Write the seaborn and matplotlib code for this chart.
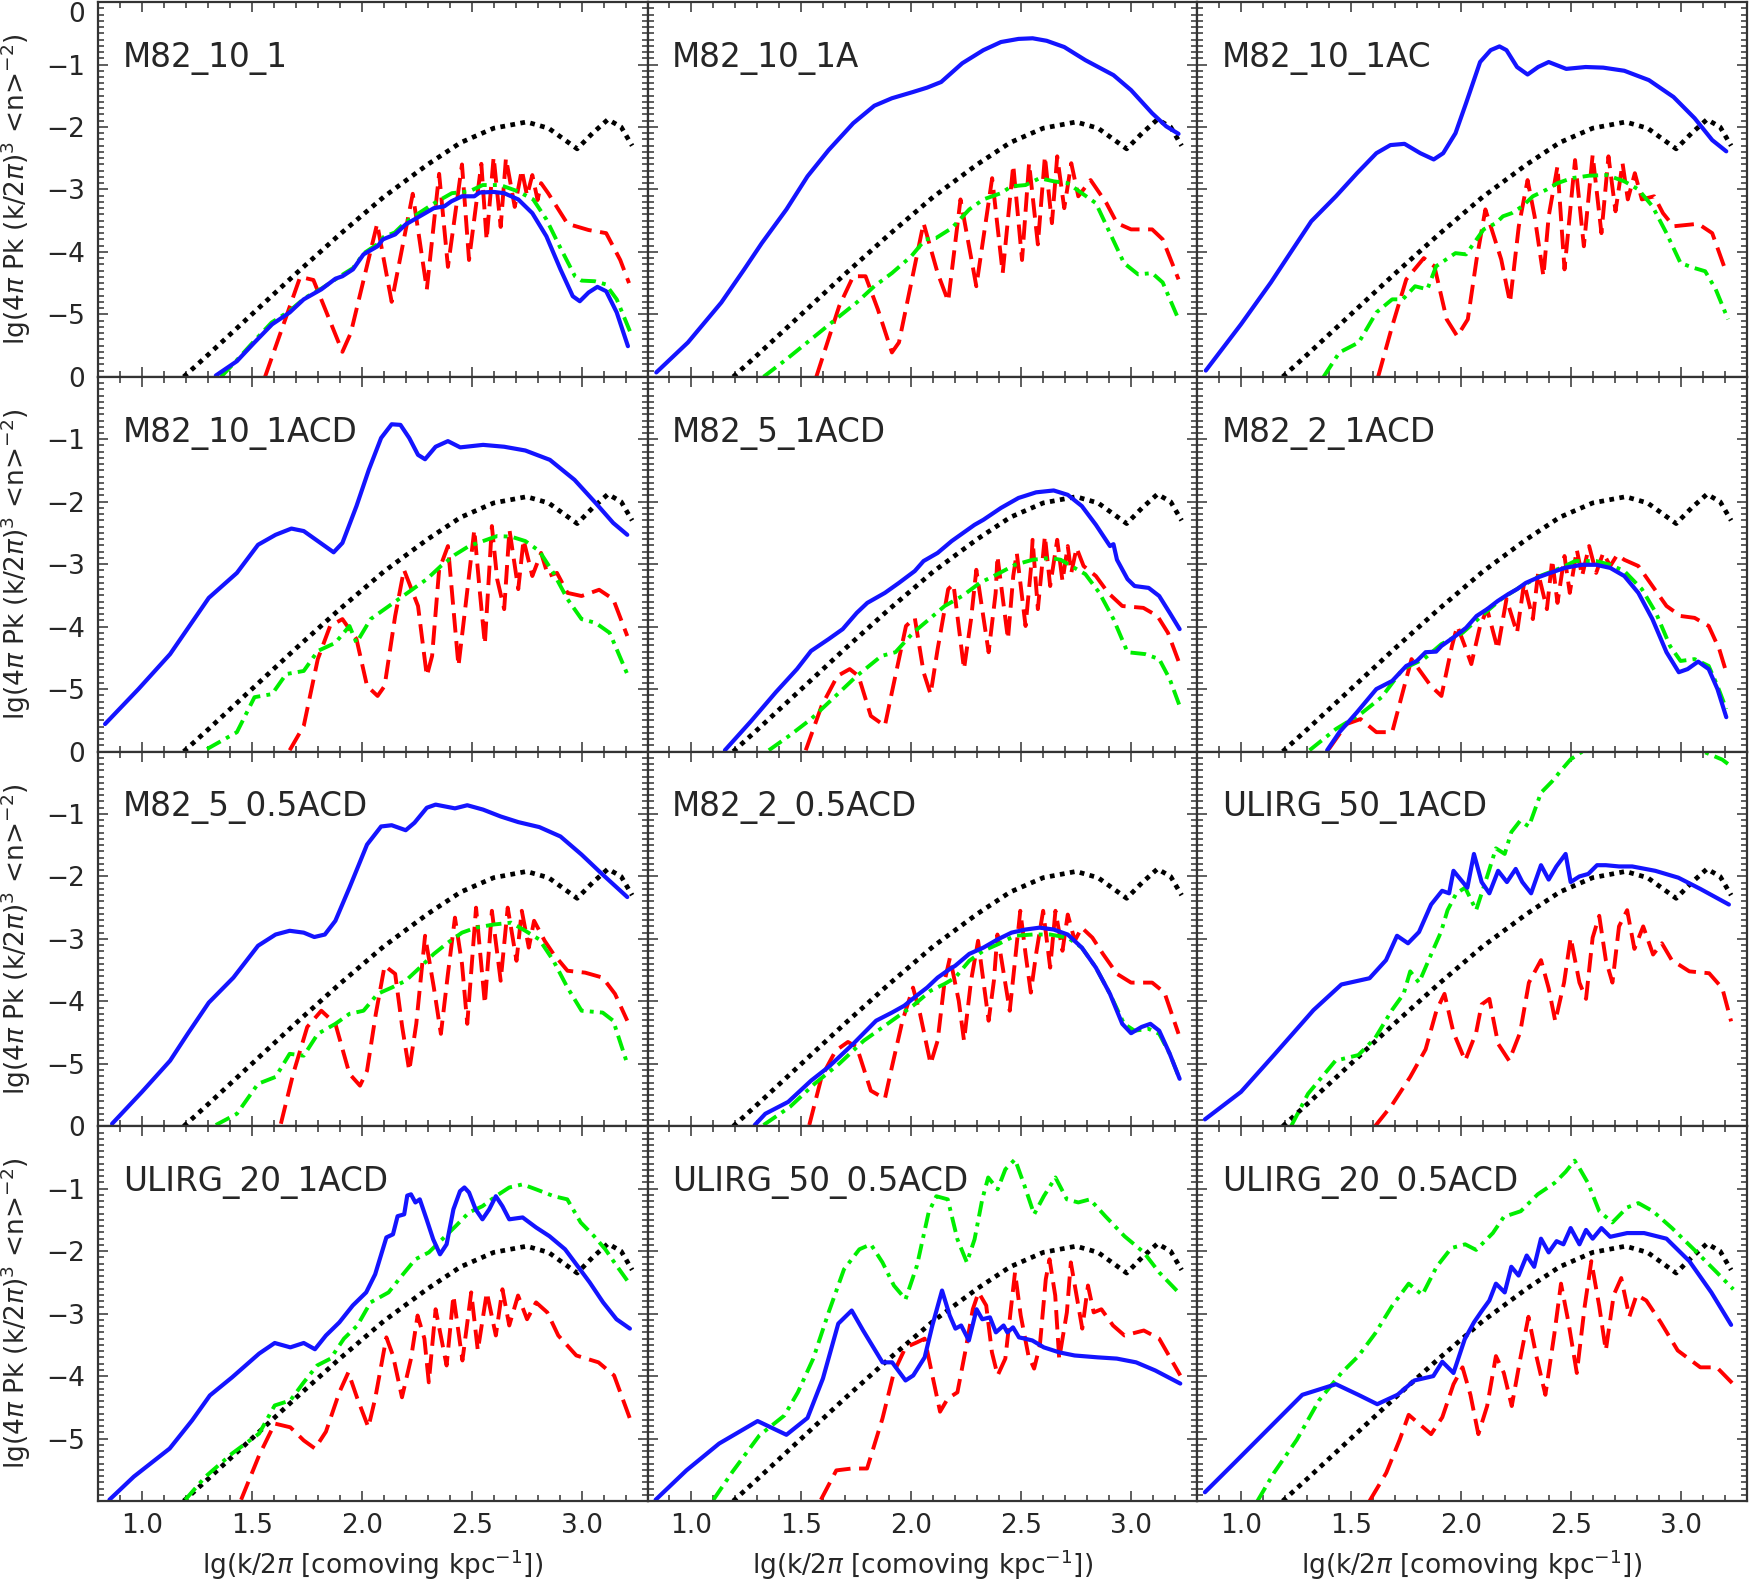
import numpy as np
import pandas as pd
import matplotlib
matplotlib.use("Agg")
import matplotlib.pyplot as plt
import seaborn as sns
from matplotlib.ticker import MultipleLocator

# ---------------------------------------------------------------------------
# data: (lg k/2pi, lg power) pairs
# ---------------------------------------------------------------------------
panel_names = ["M82_10_1", "M82_10_1A", "M82_10_1AC",
               "M82_10_1ACD", "M82_5_1ACD", "M82_2_1ACD",
               "M82_5_0.5ACD", "M82_2_0.5ACD", "ULIRG_50_1ACD",
               "ULIRG_20_1ACD", "ULIRG_50_0.5ACD", "ULIRG_20_0.5ACD"]

x_ticks = [1.0, 1.5, 2.0, 2.5, 3.0]
y_ticks = [0, -1, -2, -3, -4, -5]

# black dotted reference curve, same in every panel
black_ref = [(1.19, -6.0), (1.3, -5.65), (1.5, -5.0), (1.7, -4.35), (1.9, -3.72),
             (2.1, -3.12), (2.3, -2.6), (2.45, -2.25), (2.6, -2.02), (2.75, -1.92),
             (2.85, -2.02), (2.98, -2.35), (3.05, -2.1), (3.12, -1.88), (3.18, -2.0),
             (3.23, -2.3)]

# M82_10_1
p1_blue = [(1.336, -5.98), (1.432, -5.75), (1.512, -5.45), (1.592, -5.16), (1.672, -4.97),
           (1.736, -4.76), (1.816, -4.6), (1.88, -4.43), (1.912, -4.39), (1.96, -4.28),
           (2.008, -4.04), (2.072, -3.91), (2.096, -3.8), (2.152, -3.72), (2.2, -3.56),
           (2.264, -3.43), (2.328, -3.3), (2.376, -3.27), (2.408, -3.19), (2.456, -3.11),
           (2.512, -3.11), (2.536, -3.05), (2.6, -3.04), (2.648, -3.06), (2.712, -3.16),
           (2.776, -3.38), (2.84, -3.75), (2.904, -4.28), (2.96, -4.71), (2.992, -4.79),
           (3.032, -4.65), (3.072, -4.56), (3.112, -4.63), (3.16, -4.97), (3.211, -5.51)]
p1_green = [(1.36, -6.0), (1.43, -5.74), (1.51, -5.43), (1.59, -5.13), (1.67, -4.95),
            (1.74, -4.74), (1.82, -4.58), (1.91, -4.37), (1.96, -4.26), (2.01, -4.02),
            (2.07, -3.88), (2.10, -3.76), (2.15, -3.69), (2.2, -3.52), (2.26, -3.38),
            (2.33, -3.22), (2.41, -3.06), (2.49, -3.03), (2.55, -2.93), (2.63, -2.93),
            (2.71, -3.03), (2.78, -3.16), (2.84, -3.48), (2.90, -3.91), (2.97, -4.39),
            (3.0, -4.46), (3.06, -4.47), (3.11, -4.52), (3.16, -4.76), (3.22, -5.27)]
p1_red = [(1.56, -6.0), (1.72, -4.4), (1.78, -4.45), (1.912, -5.6), (1.95, -5.3),
          (2.07, -3.55), (2.136, -4.8), (2.232, -3.07), (2.296, -4.6), (2.352, -2.75),
          (2.392, -4.24), (2.456, -2.6), (2.488, -4.13), (2.544, -2.59), (2.568, -3.81),
          (2.6, -2.48), (2.632, -3.6), (2.656, -2.5), (2.696, -3.28), (2.728, -2.69),
          (2.752, -3.1), (2.776, -2.77), (2.8, -3.17), (2.816, -2.9), (2.848, -3.06),
          (2.936, -3.55), (3.032, -3.65), (3.112, -3.7), (3.176, -4.13), (3.216, -4.5)]

# M82_10_1A
p2_blue = [(0.84, -5.93), (0.984, -5.45), (1.136, -4.81), (1.24, -4.28), (1.32, -3.86),
           (1.432, -3.32), (1.528, -2.79), (1.624, -2.37), (1.736, -1.94), (1.832, -1.66),
           (1.912, -1.54), (2.008, -1.44), (2.072, -1.37), (2.136, -1.28), (2.232, -0.98),
           (2.328, -0.77), (2.408, -0.64), (2.488, -0.59), (2.552, -0.58), (2.616, -0.62),
           (2.696, -0.72), (2.792, -0.93), (2.92, -1.17), (3.0, -1.41), (3.096, -1.78),
           (3.16, -1.99), (3.216, -2.11)]
p2_green = [(1.328, -6.0), (1.432, -5.72), (1.544, -5.4), (1.656, -5.08), (1.752, -4.81),
            (1.832, -4.55), (1.912, -4.34), (2.0, -4.07), (2.064, -3.8), (2.112, -3.78),
            (2.184, -3.62), (2.264, -3.32), (2.328, -3.16), (2.408, -3.06), (2.456, -2.95),
            (2.52, -2.93), (2.584, -2.82), (2.648, -2.87), (2.712, -2.9), (2.776, -3.06),
            (2.84, -3.22), (2.904, -3.7), (2.968, -4.18), (3.032, -4.36), (3.096, -4.34),
            (3.144, -4.49), (3.216, -5.08)]
p2_red = [(1.568, -6.0), (1.672, -4.87), (1.736, -4.39), (1.792, -4.39), (1.848, -4.92),
          (1.912, -5.61), (1.944, -5.45), (2.056, -3.54), (2.12, -4.34), (2.168, -4.79),
          (2.224, -3.16), (2.296, -4.55), (2.368, -2.82), (2.416, -4.34), (2.464, -2.61),
          (2.504, -4.13), (2.536, -2.58), (2.576, -3.88), (2.608, -2.47), (2.64, -3.54),
          (2.664, -2.47), (2.696, -3.3), (2.728, -2.58), (2.76, -3.11), (2.816, -2.85),
          (2.888, -3.22), (2.936, -3.54), (3.0, -3.64), (3.096, -3.64), (3.144, -3.8),
          (3.216, -4.44)]

# M82_10_1AC
p3_blue = [(0.84, -5.9), (1.0, -5.16), (1.136, -4.49), (1.224, -4.02), (1.32, -3.51),
           (1.432, -3.11), (1.528, -2.74), (1.616, -2.42), (1.68, -2.29), (1.744, -2.27),
           (1.816, -2.42), (1.877, -2.52), (1.92, -2.42), (1.976, -2.1), (2.024, -1.62),
           (2.088, -0.96), (2.136, -0.77), (2.176, -0.71), (2.208, -0.77), (2.256, -1.04),
           (2.304, -1.16), (2.352, -1.04), (2.4, -0.96), (2.48, -1.07), (2.568, -1.04),
           (2.648, -1.05), (2.744, -1.1), (2.856, -1.25), (2.968, -1.52), (3.064, -1.86),
           (3.144, -2.21), (3.208, -2.39)]
p3_green = [(1.376, -6.0), (1.448, -5.61), (1.536, -5.45), (1.616, -4.97), (1.688, -4.76),
            (1.736, -4.76), (1.792, -4.55), (1.848, -4.6), (1.888, -4.23), (1.976, -4.02),
            (2.024, -4.04), (2.072, -3.8), (2.104, -3.64), (2.16, -3.54), (2.192, -3.43),
            (2.232, -3.38), (2.28, -3.27), (2.328, -3.11), (2.392, -3.0), (2.44, -2.9),
            (2.504, -2.82), (2.584, -2.78), (2.664, -2.77), (2.744, -2.87), (2.808, -3.0),
            (2.872, -3.27), (2.936, -3.7), (3.0, -4.18), (3.064, -4.26), (3.112, -4.31),
            (3.16, -4.6), (3.216, -5.08)]
p3_red = [(1.624, -6.0), (1.688, -5.19), (1.752, -4.44), (1.832, -4.1), (1.88, -4.23),
          (1.936, -5.08), (1.984, -5.35), (2.032, -5.08), (2.072, -4.12), (2.112, -3.32),
          (2.184, -4.12), (2.224, -4.81), (2.264, -3.59), (2.304, -2.85), (2.336, -3.43),
          (2.376, -4.39), (2.4, -3.43), (2.44, -2.63), (2.472, -4.28), (2.52, -2.53),
          (2.56, -3.91), (2.6, -2.45), (2.64, -3.7), (2.672, -2.47), (2.704, -3.35),
          (2.736, -2.58), (2.76, -3.16), (2.792, -2.74), (2.824, -3.16), (2.88, -3.11),
          (2.92, -3.38), (2.968, -3.59), (3.08, -3.55), (3.144, -3.7), (3.208, -4.33)]

# M82_10_1ACD
p4_blue = [(0.832, -5.56), (0.984, -5.0), (1.128, -4.44), (1.216, -3.99), (1.304, -3.54),
           (1.432, -3.14), (1.528, -2.69), (1.608, -2.53), (1.68, -2.43), (1.736, -2.47),
           (1.8, -2.63), (1.872, -2.81), (1.912, -2.66), (1.976, -2.07), (2.032, -1.49),
           (2.088, -0.98), (2.136, -0.76), (2.176, -0.77), (2.216, -0.98), (2.256, -1.25),
           (2.288, -1.32), (2.336, -1.12), (2.392, -1.03), (2.448, -1.13), (2.552, -1.09),
           (2.648, -1.12), (2.744, -1.18), (2.856, -1.33), (2.968, -1.65), (3.064, -2.02),
           (3.144, -2.34), (3.208, -2.53)]
p4_green = [(1.296, -5.96), (1.432, -5.69), (1.512, -5.13), (1.592, -5.08), (1.656, -4.76),
            (1.736, -4.71), (1.8, -4.39), (1.88, -4.26), (1.944, -3.99), (1.976, -4.26),
            (2.04, -3.88), (2.104, -3.72), (2.168, -3.56), (2.232, -3.4), (2.296, -3.24),
            (2.36, -3.03), (2.424, -2.85), (2.488, -2.71), (2.552, -2.63), (2.616, -2.55),
            (2.68, -2.56), (2.744, -2.63), (2.808, -2.79), (2.872, -3.14), (2.936, -3.56),
            (3.0, -3.88), (3.064, -3.94), (3.128, -4.1), (3.208, -4.76)]
p4_red = [(1.672, -5.98), (1.736, -5.59), (1.8, -4.52), (1.856, -3.99), (1.912, -3.88),
          (1.976, -4.2), (2.024, -4.95), (2.072, -5.11), (2.104, -4.95), (2.152, -3.83),
          (2.192, -3.09), (2.256, -3.67), (2.296, -4.79), (2.32, -4.47), (2.352, -3.09),
          (2.392, -2.71), (2.44, -4.63), (2.472, -3.67), (2.512, -2.45), (2.536, -3.4),
          (2.56, -4.28), (2.592, -2.39), (2.616, -3.24), (2.648, -3.72), (2.672, -2.45),
          (2.712, -3.4), (2.736, -2.61), (2.776, -3.19), (2.816, -2.82), (2.848, -3.19),
          (2.888, -3.14), (2.936, -3.46), (3.0, -3.51), (3.08, -3.41), (3.144, -3.56),
          (3.208, -4.15)]

# M82_5_1ACD
p5_blue = [(1.152, -5.98), (1.272, -5.51), (1.384, -5.05), (1.48, -4.68), (1.544, -4.39),
           (1.624, -4.2), (1.688, -4.04), (1.752, -3.78), (1.8, -3.62), (1.88, -3.46),
           (1.944, -3.3), (2.016, -3.11), (2.056, -2.95), (2.12, -2.82), (2.184, -2.63),
           (2.248, -2.47), (2.288, -2.37), (2.328, -2.29), (2.408, -2.1), (2.488, -1.94),
           (2.568, -1.85), (2.648, -1.82), (2.712, -1.89), (2.776, -2.07), (2.84, -2.37),
           (2.904, -2.71), (2.92, -2.68), (2.936, -2.93), (2.984, -3.24), (3.016, -3.35),
           (3.08, -3.38), (3.128, -3.51), (3.176, -3.78), (3.221, -4.04)]
p5_green = [(1.352, -5.98), (1.448, -5.74), (1.544, -5.48), (1.656, -5.11), (1.752, -4.79),
            (1.864, -4.47), (1.928, -4.41), (2.008, -4.1), (2.072, -3.91), (2.152, -3.67),
            (2.232, -3.51), (2.312, -3.3), (2.392, -3.16), (2.472, -3.01), (2.552, -2.93),
            (2.632, -2.9), (2.68, -2.93), (2.728, -3.03), (2.792, -3.16), (2.856, -3.46),
            (2.92, -3.88), (2.984, -4.41), (3.064, -4.44), (3.128, -4.52), (3.176, -4.84),
            (3.221, -5.27)]
p5_red = [(1.52, -5.98), (1.592, -5.27), (1.664, -4.79), (1.72, -4.68), (1.76, -4.79),
          (1.816, -5.43), (1.88, -5.59), (1.912, -5.05), (1.976, -3.99), (2.016, -3.86),
          (2.056, -4.73), (2.088, -5.08), (2.12, -4.36), (2.168, -3.4), (2.192, -3.32),
          (2.24, -4.68), (2.272, -3.88), (2.296, -3.09), (2.352, -4.41), (2.384, -3.46),
          (2.392, -2.87), (2.44, -4.2), (2.464, -3.19), (2.48, -2.82), (2.52, -3.99),
          (2.544, -3.09), (2.552, -2.61), (2.576, -3.72), (2.608, -2.55), (2.632, -3.35),
          (2.664, -2.61), (2.688, -3.27), (2.712, -2.71), (2.728, -3.14), (2.752, -2.74),
          (2.784, -3.03), (2.84, -3.19), (2.896, -3.46), (2.96, -3.67), (3.056, -3.7),
          (3.12, -3.83), (3.168, -4.1), (3.221, -4.6)]

# M82_2_1ACD
p6_blue = [(1.392, -5.98), (1.448, -5.69), (1.528, -5.37), (1.616, -5.0), (1.688, -4.87),
           (1.752, -4.63), (1.8, -4.55), (1.84, -4.41), (1.888, -4.4), (1.912, -4.31),
           (1.976, -4.15), (2.024, -4.02), (2.072, -3.83), (2.12, -3.72), (2.168, -3.59),
           (2.216, -3.48), (2.256, -3.4), (2.296, -3.3), (2.36, -3.2), (2.408, -3.14),
           (2.472, -3.06), (2.552, -3.01), (2.616, -3.01), (2.68, -3.06), (2.744, -3.19),
           (2.808, -3.46), (2.872, -3.88), (2.936, -4.41), (2.992, -4.73), (3.032, -4.68),
           (3.08, -4.56), (3.128, -4.68), (3.168, -5.0), (3.208, -5.45)]
p6_green = [(1.312, -5.98), (1.432, -5.64), (1.544, -5.4), (1.64, -5.13), (1.736, -4.68),
            (1.832, -4.52), (1.912, -4.28), (2.008, -4.1), (2.104, -3.8), (2.184, -3.56),
            (2.264, -3.38), (2.36, -3.19), (2.456, -3.06), (2.52, -2.95), (2.616, -2.95),
            (2.68, -3.01), (2.744, -3.11), (2.824, -3.4), (2.888, -3.78), (2.952, -4.31),
            (3.0, -4.55), (3.064, -4.52), (3.128, -4.63), (3.168, -4.95), (3.208, -5.32)]
p6_red = [(1.4, -5.96), (1.48, -5.56), (1.544, -5.48), (1.616, -5.69), (1.688, -5.69),
          (1.736, -5.05), (1.776, -4.52), (1.864, -4.95), (1.912, -5.11), (1.96, -4.31),
          (1.984, -3.99), (2.024, -4.36), (2.048, -4.6), (2.088, -3.99), (2.12, -3.72),
          (2.168, -4.36), (2.208, -3.56), (2.256, -4.1), (2.288, -3.3), (2.328, -3.88),
          (2.352, -3.14), (2.392, -3.72), (2.416, -2.93), (2.44, -3.62), (2.472, -2.87),
          (2.496, -3.46), (2.528, -2.77), (2.552, -3.19), (2.584, -2.71), (2.616, -3.14),
          (2.648, -2.82), (2.68, -3.03), (2.712, -2.85), (2.744, -2.93), (2.808, -3.03),
          (2.872, -3.35), (2.936, -3.67), (3.0, -3.83), (3.064, -3.86), (3.128, -3.99),
          (3.176, -4.36), (3.208, -4.73)]

# M82_5_0.5ACD
p7_blue = [(0.864, -5.96), (1.0, -5.45), (1.128, -4.95), (1.208, -4.52), (1.304, -4.02),
           (1.416, -3.62), (1.528, -3.11), (1.608, -2.93), (1.672, -2.87), (1.736, -2.9),
           (1.784, -2.97), (1.832, -2.93), (1.88, -2.71), (1.944, -2.18), (2.024, -1.49),
           (2.088, -1.2), (2.136, -1.18), (2.2, -1.26), (2.24, -1.14), (2.296, -0.9),
           (2.336, -0.85), (2.424, -0.91), (2.48, -0.86), (2.552, -0.93), (2.632, -1.04),
           (2.712, -1.13), (2.808, -1.21), (2.904, -1.36), (3.0, -1.65), (3.096, -1.97),
           (3.208, -2.33)]
p7_green = [(1.336, -5.98), (1.432, -5.8), (1.528, -5.32), (1.608, -5.21), (1.672, -4.84),
            (1.736, -4.87), (1.8, -4.52), (1.88, -4.36), (1.944, -4.2), (2.008, -4.15),
            (2.072, -3.88), (2.136, -3.78), (2.2, -3.67), (2.264, -3.46), (2.328, -3.24),
            (2.392, -3.06), (2.456, -2.9), (2.52, -2.82), (2.6, -2.77), (2.68, -2.74),
            (2.744, -2.87), (2.808, -3.01), (2.872, -3.35), (2.936, -3.78), (3.0, -4.15),
            (3.096, -4.18), (3.144, -4.31), (3.208, -5.0)]
p7_red = [(1.632, -5.96), (1.688, -5.16), (1.752, -4.41), (1.816, -4.15), (1.88, -4.36),
          (1.944, -5.16), (1.992, -5.35), (2.024, -5.11), (2.064, -4.2), (2.104, -3.43),
          (2.152, -3.56), (2.184, -4.41), (2.216, -5.11), (2.248, -4.36), (2.288, -2.95),
          (2.328, -3.78), (2.36, -4.52), (2.392, -3.56), (2.424, -2.66), (2.456, -3.4),
          (2.48, -4.36), (2.496, -3.62), (2.52, -2.5), (2.56, -4.04), (2.592, -2.55),
          (2.632, -3.67), (2.664, -2.5), (2.704, -3.35), (2.728, -2.55), (2.76, -3.14),
          (2.784, -2.71), (2.832, -3.03), (2.872, -3.24), (2.936, -3.51), (3.016, -3.54),
          (3.096, -3.62), (3.152, -3.88), (3.208, -4.31)]

# M82_2_0.5ACD
p8_blue = [(1.288, -5.98), (1.336, -5.8), (1.44, -5.61), (1.544, -5.27), (1.624, -5.05),
           (1.736, -4.68), (1.84, -4.31), (1.912, -4.18), (1.968, -4.07), (2.024, -3.91),
           (2.072, -3.78), (2.12, -3.62), (2.168, -3.5), (2.2, -3.43), (2.264, -3.24),
           (2.328, -3.14), (2.392, -3.01), (2.456, -2.9), (2.52, -2.85), (2.584, -2.82),
           (2.648, -2.85), (2.712, -2.93), (2.776, -3.14), (2.84, -3.46), (2.904, -3.88),
           (2.96, -4.36), (3.0, -4.51), (3.048, -4.41), (3.088, -4.36), (3.128, -4.47),
           (3.176, -4.84), (3.221, -5.24)]
p8_green = [(1.328, -5.98), (1.448, -5.69), (1.56, -5.32), (1.672, -5.0), (1.784, -4.63),
            (1.912, -4.31), (2.008, -4.07), (2.088, -3.83), (2.152, -3.72), (2.2, -3.62),
            (2.264, -3.35), (2.328, -3.19), (2.392, -3.09), (2.472, -2.95), (2.552, -2.93),
            (2.632, -2.93), (2.712, -2.98), (2.776, -3.14), (2.84, -3.46), (2.904, -3.88),
            (2.968, -4.36), (3.016, -4.47), (3.08, -4.44), (3.128, -4.52), (3.176, -4.84),
            (3.221, -5.24)]
p8_red = [(1.536, -5.98), (1.592, -5.21), (1.656, -4.79), (1.712, -4.65), (1.752, -4.73),
          (1.816, -5.43), (1.88, -5.56), (1.912, -5.05), (1.96, -4.31), (2.008, -3.78),
          (2.04, -4.2), (2.088, -5.0), (2.12, -4.63), (2.152, -3.67), (2.176, -3.3),
          (2.216, -3.99), (2.24, -4.63), (2.272, -3.67), (2.304, -3.03), (2.328, -3.67),
          (2.352, -4.31), (2.376, -3.67), (2.392, -2.93), (2.448, -4.15), (2.472, -3.35),
          (2.496, -2.55), (2.52, -3.24), (2.544, -3.86), (2.568, -3.24), (2.6, -2.55),
          (2.632, -3.46), (2.656, -2.55), (2.688, -3.19), (2.712, -2.61), (2.744, -3.03),
          (2.776, -2.82), (2.824, -2.98), (2.872, -3.24), (2.936, -3.56), (3.0, -3.7),
          (3.096, -3.7), (3.152, -3.86), (3.216, -4.52)]

# ULIRG_50_1ACD
p9_blue = [(0.836, -5.89), (1.0, -5.45), (1.15, -4.86), (1.33, -4.14), (1.457, -3.73),
           (1.585, -3.63), (1.66, -3.34), (1.71, -2.95), (1.76, -3.07), (1.81, -2.89),
           (1.865, -2.45), (1.915, -2.23), (1.947, -2.27), (1.967, -1.91), (2.03, -2.18),
           (2.06, -1.64), (2.095, -2.09), (2.13, -2.27), (2.17, -1.91), (2.21, -2.09),
           (2.25, -1.88), (2.28, -2.09), (2.32, -2.27), (2.365, -1.82), (2.4, -2.05),
           (2.435, -1.84), (2.477, -1.64), (2.5, -2.09), (2.54, -2.0), (2.58, -1.96),
           (2.62, -1.82), (2.66, -1.82), (2.72, -1.84), (2.78, -1.84), (2.885, -1.91),
           (2.99, -2.02), (3.09, -2.2), (3.22, -2.45)]
p9_green = [(1.228, -6.0), (1.305, -5.48), (1.43, -4.95), (1.534, -4.86), (1.61, -4.59),
            (1.687, -4.14), (1.74, -3.88), (1.77, -3.52), (1.81, -3.7), (1.865, -3.25),
            (1.91, -2.89), (1.94, -2.54), (1.98, -2.27), (2.02, -2.18), (2.07, -2.54),
            (2.12, -2.0), (2.16, -1.55), (2.2, -1.64), (2.23, -1.29), (2.27, -1.11),
            (2.31, -1.2), (2.365, -0.66), (2.415, -0.48), (2.457, -0.3), (2.5, -0.125),
            (2.553, 0.0), (2.7, 0.1), (2.83, 0.09), (3.0, 0.05), (3.09, 0.02),
            (3.19, -0.13), (3.22, -0.21)]
p9_red = [(1.61, -6.0), (1.687, -5.66), (1.77, -5.21), (1.84, -4.77), (1.89, -4.14),
          (1.926, -3.88), (1.967, -4.5), (2.02, -4.95), (2.07, -4.5), (2.095, -4.05),
          (2.13, -3.96), (2.17, -4.68), (2.22, -4.95), (2.27, -4.5), (2.31, -3.7),
          (2.365, -3.34), (2.4, -3.79), (2.43, -4.32), (2.47, -3.7), (2.5, -2.98),
          (2.54, -3.7), (2.57, -3.96), (2.6, -2.98), (2.63, -2.63), (2.66, -3.34),
          (2.69, -3.7), (2.72, -2.8), (2.757, -2.54), (2.79, -3.16), (2.83, -2.8),
          (2.875, -3.25), (2.915, -3.07), (2.96, -3.34), (3.04, -3.52), (3.13, -3.55),
          (3.19, -3.79), (3.23, -4.32)]

# ULIRG_20_1ACD
p10_blue = [(0.852, -5.98), (0.963, -5.61), (1.126, -5.16), (1.228, -4.71), (1.309, -4.31),
            (1.41, -4.02), (1.533, -3.64), (1.604, -3.47), (1.675, -3.54), (1.736, -3.47),
            (1.787, -3.57), (1.837, -3.35), (1.898, -3.14), (1.959, -2.87), (2.02, -2.66),
            (2.061, -2.37), (2.112, -1.78), (2.142, -1.73), (2.163, -1.44), (2.193, -1.41),
            (2.207, -1.11), (2.224, -1.09), (2.244, -1.22), (2.264, -1.17), (2.295, -1.49),
            (2.325, -1.81), (2.356, -2.05), (2.386, -1.89), (2.417, -1.33), (2.447, -1.04),
            (2.467, -0.98), (2.488, -1.06), (2.518, -1.33), (2.549, -1.49), (2.58, -1.33),
            (2.61, -1.12), (2.64, -1.28), (2.671, -1.49), (2.732, -1.46), (2.793, -1.62),
            (2.854, -1.76), (2.925, -1.97), (2.976, -2.21), (3.037, -2.5), (3.098, -2.82),
            (3.159, -3.09), (3.22, -3.24)]
p10_green = [(1.197, -5.98), (1.289, -5.61), (1.41, -5.24), (1.533, -4.92), (1.604, -4.47),
             (1.675, -4.39), (1.736, -4.1), (1.797, -3.83), (1.858, -3.72), (1.919, -3.4),
             (1.98, -3.19), (2.04, -2.82), (2.122, -2.66), (2.183, -2.39), (2.244, -2.13),
             (2.305, -2.02), (2.366, -1.81), (2.427, -1.6), (2.488, -1.38), (2.549, -1.28),
             (2.61, -1.12), (2.671, -0.98), (2.732, -0.93), (2.793, -1.01), (2.874, -1.12),
             (2.935, -1.17), (2.996, -1.54), (3.057, -1.76), (3.108, -1.97), (3.159, -2.23),
             (3.22, -2.53)]
p10_red = [(1.451, -5.98), (1.533, -5.27), (1.604, -4.76), (1.675, -4.82), (1.736, -5.03),
           (1.787, -5.16), (1.837, -4.89), (1.898, -4.26), (1.939, -3.94), (1.98, -4.36),
           (2.03, -4.82), (2.061, -4.36), (2.112, -3.38), (2.142, -3.67), (2.183, -4.34),
           (2.224, -3.72), (2.254, -3.03), (2.285, -3.4), (2.305, -4.1), (2.336, -2.93),
           (2.386, -3.83), (2.417, -2.71), (2.458, -3.75), (2.498, -2.66), (2.528, -3.59),
           (2.569, -2.66), (2.61, -3.35), (2.64, -2.61), (2.671, -3.19), (2.711, -2.71),
           (2.752, -3.09), (2.793, -2.82), (2.844, -2.98), (2.894, -3.35), (2.976, -3.67),
           (3.077, -3.78), (3.148, -3.99), (3.22, -4.68)]

# ULIRG_50_0.5ACD
p11_blue = [(0.837, -5.98), (0.977, -5.51), (1.126, -5.08), (1.301, -4.72), (1.432, -4.94),
            (1.528, -4.67), (1.598, -4.04), (1.668, -3.16), (1.729, -2.95), (1.781, -3.27),
            (1.869, -3.78), (1.913, -3.78), (1.974, -4.07), (2.009, -3.99), (2.061, -3.7),
            (2.096, -3.19), (2.14, -2.63), (2.175, -3.03), (2.201, -3.24), (2.227, -3.19),
            (2.262, -3.43), (2.297, -2.93), (2.323, -3.09), (2.358, -3.06), (2.385, -3.3),
            (2.42, -3.19), (2.437, -3.3), (2.463, -3.22), (2.49, -3.38), (2.516, -3.4),
            (2.551, -3.43), (2.603, -3.54), (2.673, -3.62), (2.743, -3.67), (2.848, -3.7),
            (2.935, -3.72), (3.023, -3.78), (3.11, -3.91), (3.224, -4.12)]
p11_green = [(1.1, -5.98), (1.187, -5.53), (1.309, -4.95), (1.423, -4.63), (1.484, -4.26),
             (1.554, -3.72), (1.624, -2.98), (1.694, -2.29), (1.764, -1.97), (1.816, -1.89),
             (1.869, -2.18), (1.921, -2.55), (1.974, -2.77), (2.026, -2.23), (2.079, -1.38),
             (2.114, -1.12), (2.166, -1.17), (2.21, -1.81), (2.253, -2.18), (2.288, -1.81),
             (2.323, -1.17), (2.35, -0.82), (2.393, -1.01), (2.428, -0.69), (2.472, -0.53),
             (2.516, -0.96), (2.559, -1.41), (2.603, -1.12), (2.656, -0.82), (2.708, -1.17),
             (2.76, -1.22), (2.813, -1.17), (2.883, -1.44), (2.97, -1.76), (3.058, -2.02),
             (3.128, -2.34), (3.224, -2.69)]
p11_red = [(1.589, -5.98), (1.659, -5.51), (1.729, -5.48), (1.799, -5.48), (1.869, -4.68),
           (1.921, -3.94), (1.974, -3.54), (2.026, -3.46), (2.061, -3.4), (2.096, -3.99),
           (2.131, -4.57), (2.166, -4.36), (2.21, -4.26), (2.245, -3.62), (2.28, -2.93),
           (2.306, -2.66), (2.341, -2.87), (2.367, -3.62), (2.393, -3.99), (2.428, -3.72),
           (2.455, -2.87), (2.472, -2.34), (2.498, -3.03), (2.533, -3.67), (2.559, -3.88),
           (2.585, -3.51), (2.612, -2.45), (2.629, -2.13), (2.655, -2.71), (2.673, -3.72),
           (2.708, -2.98), (2.726, -2.18), (2.752, -2.71), (2.778, -3.24), (2.804, -2.55),
           (2.83, -2.98), (2.865, -2.93), (2.918, -3.19), (2.97, -3.35), (3.058, -3.27),
           (3.128, -3.4), (3.224, -3.99)]

# ULIRG_20_0.5ACD
p12_blue = [(0.836, -5.86), (0.973, -5.38), (1.126, -4.84), (1.279, -4.3), (1.432, -4.13),
            (1.534, -4.3), (1.62, -4.45), (1.712, -4.3), (1.789, -4.07), (1.875, -4.0),
            (1.916, -3.77), (1.967, -3.95), (2.018, -3.41), (2.06, -3.14), (2.095, -2.96),
            (2.13, -2.79), (2.16, -2.52), (2.2, -2.66), (2.23, -2.25), (2.263, -2.39),
            (2.3, -2.07), (2.334, -2.25), (2.365, -1.8), (2.4, -2.02), (2.436, -1.84),
            (2.467, -1.89), (2.5, -1.63), (2.54, -1.89), (2.57, -1.66), (2.6, -1.8),
            (2.64, -1.63), (2.68, -1.77), (2.757, -1.71), (2.834, -1.71), (2.936, -1.8),
            (3.04, -2.16), (3.14, -2.66), (3.23, -3.18)]
p12_green = [(1.075, -6.0), (1.15, -5.55), (1.254, -5.02), (1.355, -4.39), (1.457, -3.95),
             (1.534, -3.68), (1.61, -3.32), (1.687, -2.88), (1.763, -2.52), (1.825, -2.7),
             (1.89, -2.25), (1.957, -1.95), (2.02, -1.89), (2.07, -1.98), (2.146, -1.71),
             (2.196, -1.45), (2.273, -1.36), (2.35, -1.09), (2.426, -0.91), (2.477, -0.73),
             (2.518, -0.55), (2.538, -0.66), (2.579, -0.91), (2.63, -1.36), (2.69, -1.54),
             (2.757, -1.3), (2.808, -1.23), (2.874, -1.36), (2.961, -1.63), (3.063, -1.98),
             (3.165, -2.34), (3.24, -2.61)]
p12_red = [(1.585, -6.0), (1.661, -5.55), (1.722, -5.02), (1.763, -4.62), (1.865, -4.93),
           (1.916, -4.66), (1.967, -4.13), (2.008, -3.86), (2.044, -4.3), (2.08, -4.93),
           (2.12, -4.48), (2.16, -3.68), (2.196, -3.95), (2.232, -4.48), (2.273, -3.68),
           (2.308, -3.05), (2.344, -3.68), (2.385, -4.3), (2.426, -3.32), (2.456, -2.52),
           (2.49, -3.14), (2.528, -3.95), (2.564, -2.88), (2.594, -2.16), (2.63, -2.88),
           (2.66, -3.59), (2.696, -2.7), (2.73, -2.43), (2.767, -3.05), (2.8, -2.7),
           (2.844, -2.79), (2.91, -3.14), (2.987, -3.59), (3.09, -3.86), (3.165, -3.86),
           (3.24, -4.13)]

blue_curves = [p1_blue, p2_blue, p3_blue, p4_blue, p5_blue, p6_blue,
               p7_blue, p8_blue, p9_blue, p10_blue, p11_blue, p12_blue]
green_curves = [p1_green, p2_green, p3_green, p4_green, p5_green, p6_green,
                p7_green, p8_green, p9_green, p10_green, p11_green, p12_green]
red_curves = [p1_red, p2_red, p3_red, p4_red, p5_red, p6_red,
              p7_red, p8_red, p9_red, p10_red, p11_red, p12_red]


def to_df(pairs):
    return pd.DataFrame(pairs, columns=["lgk", "lgp"])


def draw_curve(ax, pairs, **kws):
    sns.lineplot(data=to_df(pairs), x="lgk", y="lgp", ax=ax, sort=False,
                 estimator=None, legend=False, **kws)


sns.set_style("ticks")
plt.rcParams["font.family"] = ["DejaVu Sans"]

fig, axes = plt.subplots(4, 3, figsize=(17.5, 15.84), dpi=100, sharex=True, sharey=True)
fig.subplots_adjust(left=0.056, right=0.998, top=0.9987, bottom=0.0524,
                    wspace=0, hspace=0)

for i, ax in enumerate(axes.flat):
    row, col = divmod(i, 3)

    draw_curve(ax, black_ref, color="black", lw=3.4, linestyle=(0, (1.0, 1.15)))
    draw_curve(ax, red_curves[i], color="#ff0000", lw=2.8, linestyle=(0, (5, 2.2)))
    draw_curve(ax, green_curves[i], color="#00ee00", lw=2.8, linestyle=(0, (4, 1.6, 1, 1.6)))
    draw_curve(ax, blue_curves[i], color="#1414ff", lw=3.0, linestyle="-")

    ax.set_xlim(0.8, 3.3)
    ax.set_ylim(-6, 0)
    ax.xaxis.set_major_locator(MultipleLocator(0.5))
    ax.xaxis.set_minor_locator(MultipleLocator(0.1))
    ax.yaxis.set_major_locator(MultipleLocator(1))
    ax.yaxis.set_minor_locator(MultipleLocator(0.1))
    ax.tick_params(which="both", direction="in", top=True, right=True,
                   width=1.1, labelsize=19, color="#333333")
    ax.tick_params(which="major", length=7, pad=9)
    ax.tick_params(which="minor", length=4)
    for sp in ax.spines.values():
        sp.set_linewidth(1.6)
        sp.set_color("#333333")

    ax.text(0.045, 0.85, panel_names[i], transform=ax.transAxes,
            fontsize=23.5, va="center", ha="left")

    if col == 0:
        ax.set_yticks(y_ticks + [-6])
        labels = ax.set_yticklabels([("\u2212%d" % -v) if v else "0" for v in y_ticks] + [""])
        # the top "0" sits just under the panel edge, as in the original
        labels[0].set_verticalalignment("top")
        ax.set_ylabel(r"lg(4$\pi$ Pk (k/2$\pi$)$^3$ <n>$^{-2}$)", fontsize=19, labelpad=10)
    else:
        ax.set_ylabel("")
        ax.tick_params(labelleft=False)

    if row == 3:
        ax.set_xticks(x_ticks)
        ax.set_xticklabels(["%.1f" % v for v in x_ticks])
        ax.set_xlabel(r"lg(k/2$\pi$ [comoving kpc$^{-1}$])", fontsize=19, labelpad=6)
    else:
        ax.set_xlabel("")
        ax.tick_params(labelbottom=False)

    ax.set_xlim(0.8, 3.3)
    ax.set_ylim(-6, 0)

fig.savefig("out.png", dpi=100)
